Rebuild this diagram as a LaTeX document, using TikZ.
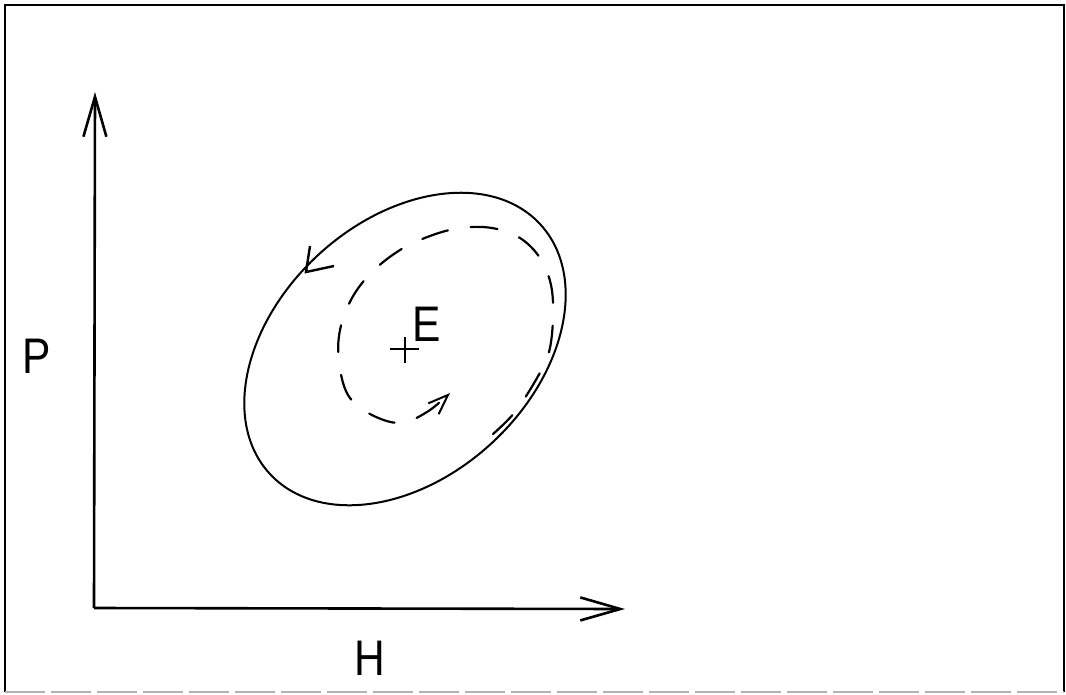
\documentclass[tikz,border=0pt]{standalone}
\usepackage{fontspec}
\setmainfont{Liberation Sans}
\usetikzlibrary{arrows.meta}
\tikzset{
  axisline/.style={line width=2.6pt, -{Straight Barb[length=40pt,width=23pt,line width=2.6pt]}},
  cycleline/.style={line width=2pt},
  spiralline/.style={line width=2.2pt, dash pattern=on 27pt off 23pt, line cap=round},
  lbl/.style={inner sep=0pt, font=\fontsize{50}{50}\selectfont},
  framestyle/.style={line width=2.4pt},
}
\begin{document}
\begin{tikzpicture}[x=1pt,y=-1pt]
\useasboundingbox (0,0) rectangle (1066,694);
% frame
\draw[framestyle] (5,692) -- (5,5) -- (1064,5) -- (1064,692);
\draw[line width=2pt, gray!60, dash pattern=on 40pt off 6pt] (5,692) -- (1064,692);
% axes
\coordinate (O) at (94,608);
\coordinate (ytip) at (95,92);
\coordinate (xtip) at (625,609);
\draw[axisline] (O) -- (ytip);
\draw[axisline] (O) -- (xtip);
% labels
\node[lbl, anchor=base] (P) at (36.5,373) {\scalebox{0.85}[1]{P}};
\node[lbl, anchor=base] (H) at (370,675) {\scalebox{0.85}[1]{H}};
\node[lbl, anchor=base] (E) at (426.5,341) {\scalebox{0.85}[1]{E}};
% equilibrium cross
\coordinate (Ec) at (405,349);
\draw[line width=1.8pt] (390,349) -- (419,349);
\draw[line width=1.6pt] (405,337) -- (405,363);
% outer closed orbit
\draw[cycleline, rotate around={42.7:(Ec)}] (Ec) ellipse [x radius=184, y radius=128];
% arrow on outer orbit
\coordinate (otip) at (306,272);
\draw[line width=2.4pt, line join=miter] (310,246) -- (otip) -- (334,266);
% inner spiral
\draw[spiralline, -{Straight Barb[length=20pt,width=15pt,line width=2pt]}]
  plot[smooth, tension=0.6] coordinates {
  (493,434) (515,412) (537,378) (549,352) (553,318) (551,285) (540,258)
  (520,238) (492,228) (460,228) (430,236) (400,250) (372,272) (352,298)
  (340,330) (339,362) (348,395) (370,414) (400,423) (427,412) (450,393)};
\end{tikzpicture}
\end{document}
